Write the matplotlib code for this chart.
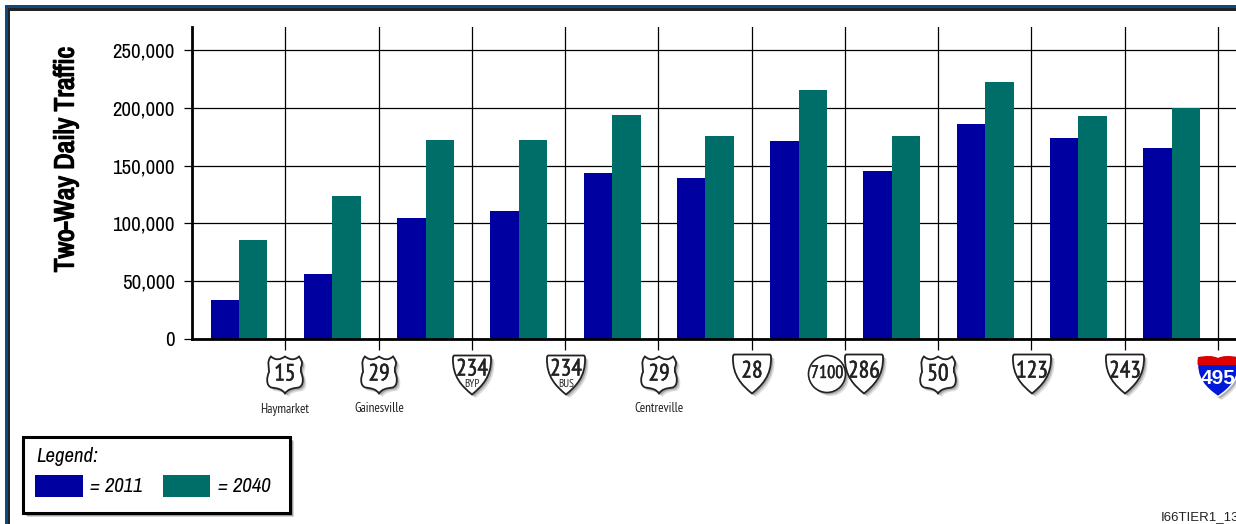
#!/usr/bin/env python3
"""I-66 two-way daily traffic by segment, 2011 vs 2040."""
import numpy as np
import matplotlib
matplotlib.use('Agg')
import matplotlib.pyplot as plt
import matplotlib.patheffects as pe
from matplotlib.patches import PathPatch, Rectangle, Circle
from matplotlib.path import Path
from matplotlib.ticker import FuncFormatter

plt.rcParams['font.family'] = ['Archivo Narrow', 'Liberation Sans', 'DejaVu Sans']
SHIELD_FONT = 'PT Sans Narrow'

W, H = 1236, 524
BLUE = '#0000a0'
TEAL = '#006e68'

TRAFFIC_2011 = [34000, 56000, 105000, 111000, 144000, 139000, 171000, 145000, 186000, 174000, 165000]
TRAFFIC_2040 = [86000, 124000, 172000, 172000, 194000, 176000, 215000, 176000, 222000, 193000, 200000]
Y_TICKS = [0, 50000, 100000, 150000, 200000, 250000]

# kind, number, sub label, place name, x in px, y in px
SHIELDS = [
    ('us', '15', '', 'Haymarket', 285, 375),
    ('us', '29', '', 'Gainesville', 379, 375),
    ('va', '234', 'BYP', '', 472, 375),
    ('va', '234', 'BUS', '', 566, 375),
    ('us', '29', '', 'Centreville', 659, 375),
    ('va', '28', '', '', 752, 374),
    ('circle', '7100', '', '', 827, 374),
    ('va', '286', '', '', 864, 374),
    ('us', '50', '', '', 938, 375),
    ('va', '123', '', '', 1032, 374),
    ('va', '243', '', '', 1125, 374),
    ('is', '495', '', '', 1218, 376),
]

M, L, C3, C4, Z = Path.MOVETO, Path.LINETO, Path.CURVE3, Path.CURVE4, Path.CLOSEPOLY


def va_path(cx, cy, w=38, h=39):
    v = [(-.46, -.5), (.46, -.5), (.5, -.5), (.5, -.44),
         (.52, .05), (.25, .3), (0, .5),
         (-.25, .3), (-.52, .05), (-.5, -.44),
         (-.5, -.5), (-.46, -.5), (-.46, -.5)]
    c = [M, L, C3, C3, C4, C4, C4, C4, C4, C4, C3, C3, Z]
    return Path(np.array(v) * (w, h) + (cx, cy), c)


def us_path(cx, cy, w=37, h=37):
    v = [(-.38, -.5), (-.24, -.38), (-.12, -.42), (0, -.5), (.12, -.42), (.24, -.38), (.38, -.5),
         (.44, -.4), (.5, -.36), (.43, -.2), (.43, -.08),
         (.5, .05), (.52, .3), (.36, .34),
         (.2, .36), (.08, .38), (0, .5),
         (-.08, .38), (-.2, .36), (-.36, .34),
         (-.52, .3), (-.5, .05), (-.43, -.08),
         (-.43, -.2), (-.5, -.36), (-.38, -.5), (-.38, -.5)]
    c = [M, C4, C4, C4, C4, C4, C4,
         C4, C4, L, L,
         C4, C4, C4,
         C4, C4, C4,
         C4, C4, C4,
         C4, C4, C4,
         C4, C4, C4, Z]
    return Path(np.array(v) * (w, h) + (cx, cy), c)


def is_path(cx, cy, w=40, h=41):
    v = [(-.5, -.46), (-.3, -.5), (-.12, -.5), (0, -.44),
         (.12, -.5), (.3, -.5), (.5, -.46),
         (.58, .05), (.3, .3), (0, .5),
         (-.3, .3), (-.58, .05), (-.5, -.46), (-.5, -.46)]
    c = [M, C4, C4, C4, C4, C4, C4, C4, C4, C4, C4, C4, C4, Z]
    return Path(np.array(v) * (w, h) + (cx, cy), c)


def shadow():
    # two stacked shadows fake the soft blur of the original
    return [pe.SimplePatchShadow(offset=(2.5, -2.5), shadow_rgbFace='#777777', alpha=0.25),
            pe.SimplePatchShadow(offset=(1.5, -1.5), shadow_rgbFace='#555555', alpha=0.35),
            pe.Normal()]


def thicken(lw):
    return [pe.withStroke(linewidth=lw, foreground='#222222')]


def draw_shield(ax, kind, num, sub, place, cx, cy):
    if kind == 'circle':
        ax.add_patch(Circle((cx, cy), 18.5, fc='white', ec='#222222', lw=1.2, path_effects=shadow()))
        ax.text(cx, cy, num, ha='center', va='center', fontsize=13, color='#222222', family=SHIELD_FONT,
                path_effects=thicken(0.3))
    elif kind == 'is':
        patch = PathPatch(is_path(cx, cy), fc='#0018d8', ec='white', lw=1.0, path_effects=shadow())
        ax.add_patch(patch)
        red = Rectangle((cx - 25, cy - 25), 50, 14, fc='#dc0000', ec='none')
        ax.add_patch(red)
        red.set_clip_path(patch)
        ax.text(cx, cy + 3, num, ha='center', va='center', fontsize=15, color='white',
                weight='bold', family='Liberation Sans')
    else:
        outline = va_path(cx, cy) if kind == 'va' else us_path(cx, cy)
        ax.add_patch(PathPatch(outline, fc='white', ec='#222222', lw=1.3, path_effects=shadow()))
        dy = -5 if sub else (-2 if kind == 'va' else 0)
        ax.text(cx, cy + dy, num, ha='center', va='center', fontsize=17, color='#222222', family=SHIELD_FONT,
                path_effects=thicken(0.4))
        if sub:
            ax.text(cx, cy + 9, sub, ha='center', va='center', fontsize=8, color='#222222', family=SHIELD_FONT)
    if place:
        ax.text(cx, 409, place, ha='center', va='center', fontsize=9.5, color='#222222', family=SHIELD_FONT)


fig = plt.figure(figsize=(W / 100, H / 100), dpi=100, facecolor='white')

x0, y0, ytop, y250, step = 192, 339, 27, 50, 93.27
ax = fig.add_axes([x0 / W, (H - y0) / H, (W - x0) / W, (y0 - ytop) / H])
n = len(TRAFFIC_2011)
x = np.arange(n) + 0.5
bw = 0.305
ax.bar(x - bw / 2 + 0.004, TRAFFIC_2011, bw, color=BLUE, zorder=3)
ax.bar(x + bw / 2 + 0.004, TRAFFIC_2040, bw, color=TEAL, zorder=3)

ax.set_xlim(0, (W - x0) / step)
ax.set_ylim(0, 250000 * (y0 - ytop) / (y0 - y250))
ax.set_yticks(Y_TICKS)
ax.yaxis.set_major_formatter(FuncFormatter(lambda v, _: f'{int(v):,}'))
ax.set_xticks(np.arange(1, n + 1))
ax.set_xticklabels([])
ax.grid(True, color='black', lw=0.9)
ax.set_axisbelow(True)
ax.tick_params(axis='y', length=6, width=0.9, labelsize=15, pad=6.5)
ax.tick_params(axis='x', length=8, width=0.9)
for s in ['top', 'right']:
    ax.spines[s].set_visible(False)
for s in ['left', 'bottom']:
    ax.spines[s].set_linewidth(2.0)
    ax.spines[s].set_zorder(4)

# overlay in pixel coordinates for frame, shields and legend
ov = fig.add_axes([0, 0, 1, 1], facecolor='none')
ov.set_xlim(0, W)
ov.set_ylim(H, 0)
ov.axis('off')

# Archivo Narrow has no bold face here, so the stroke does the weight
ov.text(66, 159.5, 'Two-Way Daily Traffic', rotation=90, ha='center', va='center', fontsize=20,
        path_effects=[pe.withStroke(linewidth=1.0, foreground='black')])

ov.add_patch(Rectangle((5, 5), W, 3, fc='#0b4a80', ec='none'))
ov.add_patch(Rectangle((8, 8), W, 2.5, fc='#222222', ec='none'))
ov.add_patch(Rectangle((5, 5), 3, H, fc='#0b4a80', ec='none'))
ov.add_patch(Rectangle((8, 8), 2, H, fc='#222222', ec='none'))

for shield in SHIELDS:
    draw_shield(ov, *shield)

ov.add_patch(Rectangle((23, 437), 267, 76, fc='white', ec='black', lw=2.2,
                       path_effects=[pe.SimplePatchShadow(offset=(3, -3), shadow_rgbFace='#888888', alpha=0.35),
                                     pe.SimplePatchShadow(offset=(2, -2), shadow_rgbFace='#555555', alpha=0.4),
                                     pe.Normal()]))
ov.text(36, 456, 'Legend:', style='italic', fontsize=15, ha='left', va='center')
ov.add_patch(Rectangle((35, 475), 48, 22, fc=BLUE, ec='none'))
ov.text(90, 487, '= 2011', style='italic', fontsize=15, ha='left', va='center')
ov.add_patch(Rectangle((163, 475), 47, 22, fc=TEAL, ec='none'))
ov.text(218, 487, '= 2040', style='italic', fontsize=15, ha='left', va='center')

ov.text(1161, 517, 'I66TIER1_13', fontsize=9.5, ha='left', va='center', color='#222222', family='Liberation Sans')

fig.savefig('out.png', dpi=100)
plt.close(fig)
